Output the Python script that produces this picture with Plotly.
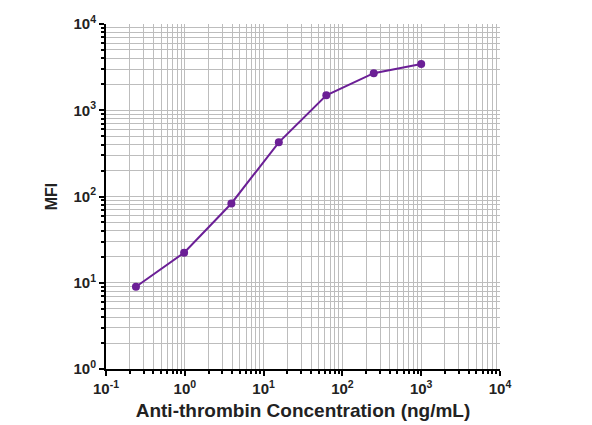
import plotly.graph_objects as go

concentration = [0.24, 0.98, 3.9, 15.6, 62.5, 250, 1000]
mfi = [9.0, 22.3, 83, 425, 1490, 2690, 3430]

x_decades = [-1, 0, 1, 2, 3, 4]
y_decades = [0, 1, 2, 3, 4]

def dec_vals(decs):
    return [10 ** d for d in decs]

def dec_text(decs):
    return [f"<b>10<sup>{d}</sup></b>" for d in decs]

def minor_vals(decs):
    out = []
    for d in decs[:-1]:
        for m in range(2, 10):
            out.append(m * 10 ** d)
    return out

purple = "#6b1f96"
grid = "#bdbdbd"
font = "Liberation Sans"

fig = go.Figure()
fig.add_trace(go.Scatter(
    x=concentration, y=mfi, mode="lines+markers",
    line=dict(color=purple, width=2),
    marker=dict(color=purple, size=8),
    showlegend=False,
    cliponaxis=False,
))

axis_common = dict(
    type="log",
    showline=True, linecolor="black", linewidth=2,
    ticks="outside", ticklen=5, tickwidth=2, tickcolor="black",
    showgrid=True, gridcolor=grid, gridwidth=1,
    zeroline=False, mirror=False, automargin=False,
    tickfont=dict(family=font, size=15, color="#222"),
)

fig.update_xaxes(
    **axis_common,
    range=[-1, 4],
    tickvals=dec_vals(x_decades), ticktext=dec_text(x_decades),
    minor=dict(tickvals=minor_vals(x_decades), ticks="outside", ticklen=3, tickwidth=1.5,
               tickcolor="black", showgrid=True, gridcolor=grid, gridwidth=1),
    title=dict(text="<b>Anti-thrombin Concentration (ng/mL)</b>",
               font=dict(family=font, size=19, color="#222"), standoff=8),
)
fig.update_yaxes(
    **axis_common,
    range=[0, 4],
    tickvals=dec_vals(y_decades), ticktext=dec_text(y_decades),
    minor=dict(tickvals=minor_vals(y_decades), ticks="outside", ticklen=3, tickwidth=1.5,
               tickcolor="black", showgrid=True, gridcolor=grid, gridwidth=1),
    title=dict(text="<b>MFI</b>", font=dict(family=font, size=16, color="#222"), standoff=12),
)

fig.update_layout(
    width=592, height=425,
    margin=dict(l=98, r=100, t=16, b=64),
    paper_bgcolor="white", plot_bgcolor="white",
)

fig.write_html("out.html")
